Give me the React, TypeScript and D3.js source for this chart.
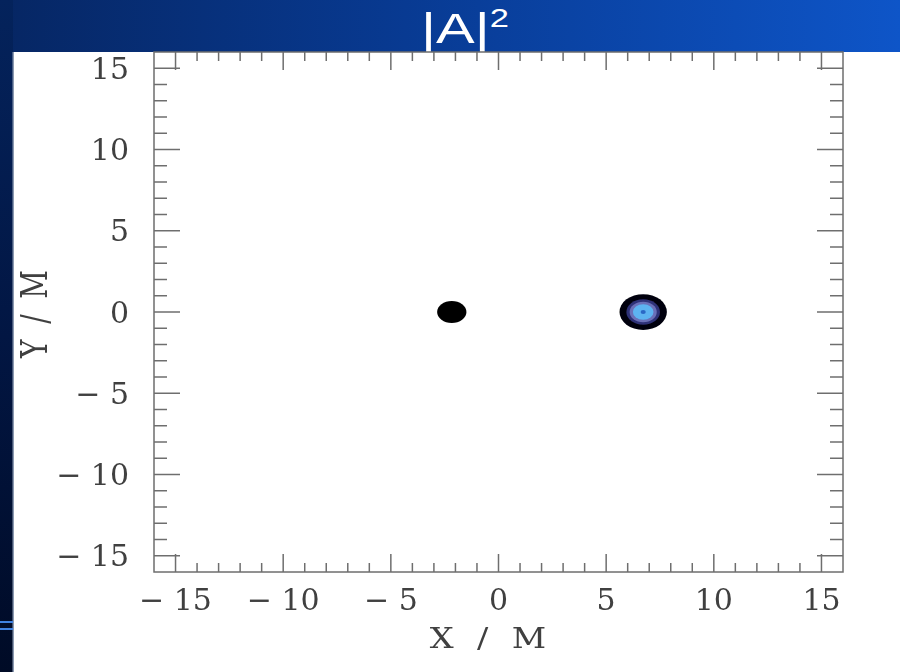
import React from "react";
import * as d3 from "d3";

// ---- data ----
const xDomain = [-16, 16];
const yDomain = [-16, 16];
const majorTicks = [-15, -10, -5, 0, 5, 10, 15];
const minorTicks = d3.range(-15, 16).filter((v) => v % 5 !== 0);
const titleMain = "|A|";
const titleSup = "2";
const xLabel = "X / M";
const yLabel = "Y / M";

// blob centres (in M) and their contour levels (radius in M, fill colour)
const blobX = [-2.17, 6.72];
const blobY = [0, 0];
const blob1Radii = [0.68];
const blob1Colors = ["#000000"];
const blob2Radii = [1.1, 0.78, 0.63, 0.48, 0.12];
const blob2Colors = ["#04040c", "#2e3078", "#6a70b8", "#5db3f1", "#2a68c6"];

const W = 900;
const H = 672;

function fmt(v: number) {
  return v < 0 ? "\u2212 " + Math.abs(v) : String(v);
}

export default function App() {
  const x = d3.scaleLinear().domain(xDomain).range([154, 843]);
  const y = d3.scaleLinear().domain(yDomain).range([572, 52]);
  const [x0, x1] = x.range();
  const [y0, y1] = y.range(); // y0 bottom, y1 top

  const tickColor = "#6e6e6e";
  const vMaj = 18, vMin = 9, hMaj = 26, hMin = 13;

  const blobs = [
    { cx: blobX[0], cy: blobY[0], radii: blob1Radii, colors: blob1Colors },
    { cx: blobX[1], cy: blobY[1], radii: blob2Radii, colors: blob2Colors },
  ];

  return (
    <svg
      width={W}
      height={H}
      style={{ position: "absolute", left: 0, top: 0, display: "block" }}
    >
      <defs>
        <linearGradient id="band" x1="0" y1="0" x2="1" y2="0">
          <stop offset="0" stopColor="#062663" />
          <stop offset="0.45" stopColor="#083a92" />
          <stop offset="1" stopColor="#0e55c8" />
        </linearGradient>
        <linearGradient id="strip" x1="0" y1="0" x2="0" y2="1">
          <stop offset="0" stopColor="#04235c" />
          <stop offset="0.5" stopColor="#021643" />
          <stop offset="1" stopColor="#000b26" />
        </linearGradient>
        <filter id="soft" x="-50%" y="-50%" width="200%" height="200%">
          <feGaussianBlur stdDeviation="0.7" />
        </filter>
        <filter id="softTxt" x="-10%" y="-10%" width="120%" height="120%">
          <feGaussianBlur stdDeviation="0.35" />
        </filter>
      </defs>

      {/* slide background */}
      <rect x={0} y={0} width={W} height={H} fill="#ffffff" />
      <rect x={0} y={0} width={W} height={52} fill="url(#band)" />
      <rect x={0} y={0} width={13} height={H} fill="url(#strip)" />
      <rect x={12.5} y={52} width={1.5} height={H - 52} fill="#8d9bb2" />
      <rect x={0} y={621} width={13} height={2} fill="#3f82e2" />
      <rect x={0} y={628} width={13} height={2} fill="#3f82e2" />

      {/* title */}
      <g transform="translate(421,43) scale(1.38,1)">
        <text
          fill="#ffffff"
          fontFamily="'Liberation Sans', Arial, sans-serif"
          fontSize={42}
        >
          {titleMain}
          <tspan fontSize={25} dx={0} dy={-16}>
            {titleSup}
          </tspan>
        </text>
      </g>

      {/* blobs */}
      <g filter="url(#soft)">
        {blobs.map((b, i) =>
          b.radii.map((r, j) => (
            <ellipse
              key={`${i}-${j}`}
              cx={x(b.cx)}
              cy={y(b.cy)}
              rx={x(r) - x(0)}
              ry={y(0) - y(r)}
              fill={b.colors[j]}
            />
          ))
        )}
      </g>

      {/* frame and ticks */}
      <g stroke={tickColor} strokeWidth={1.5} fill="none">
        <rect x={x0} y={y1} width={x1 - x0} height={y0 - y1} />
        {majorTicks.map((v) => (
          <g key={"M" + v}>
            <line x1={x(v)} x2={x(v)} y1={y0} y2={y0 - vMaj} />
            <line x1={x(v)} x2={x(v)} y1={y1} y2={y1 + vMaj} />
            <line y1={y(v)} y2={y(v)} x1={x0} x2={x0 + hMaj} />
            <line y1={y(v)} y2={y(v)} x1={x1} x2={x1 - hMaj} />
          </g>
        ))}
        {minorTicks.map((v) => (
          <g key={"m" + v}>
            <line x1={x(v)} x2={x(v)} y1={y0} y2={y0 - vMin} />
            <line x1={x(v)} x2={x(v)} y1={y1} y2={y1 + vMin} />
            <line y1={y(v)} y2={y(v)} x1={x0} x2={x0 + hMin} />
            <line y1={y(v)} y2={y(v)} x1={x1} x2={x1 - hMin} />
          </g>
        ))}
      </g>

      {/* tick labels */}
      <g
        fill="#404040"
        fontFamily="'DejaVu Serif', serif"
        fontSize={30}
        filter="url(#softTxt)"
      >
        {majorTicks.map((v) => (
          <text key={"xl" + v} x={x(v)} y={610} textAnchor="middle">
            {fmt(v)}
          </text>
        ))}
        {majorTicks.map((v) => (
          <text key={"yl" + v} x={129} y={y(v) + 10.5} textAnchor="end">
            {fmt(v)}
          </text>
        ))}
      </g>

      {/* axis titles */}
      <g
        fill="#404040"
        fontFamily="'DejaVu Serif', serif"
        fontSize={28}
        filter="url(#softTxt)"
      >
        <g transform="translate(488,648) scale(1.2,1)">
          <text
            x={0}
            y={0}
            textAnchor="middle"
            textLength={97}
            lengthAdjust="spacing"
          >
            {xLabel}
          </text>
        </g>
        <g transform="translate(47,314) scale(1.3,1) rotate(-90)">
          <text
            x={0}
            y={0}
            textAnchor="middle"
            textLength={88}
            lengthAdjust="spacing"
          >
            {yLabel}
          </text>
        </g>
      </g>
    </svg>
  );
}
